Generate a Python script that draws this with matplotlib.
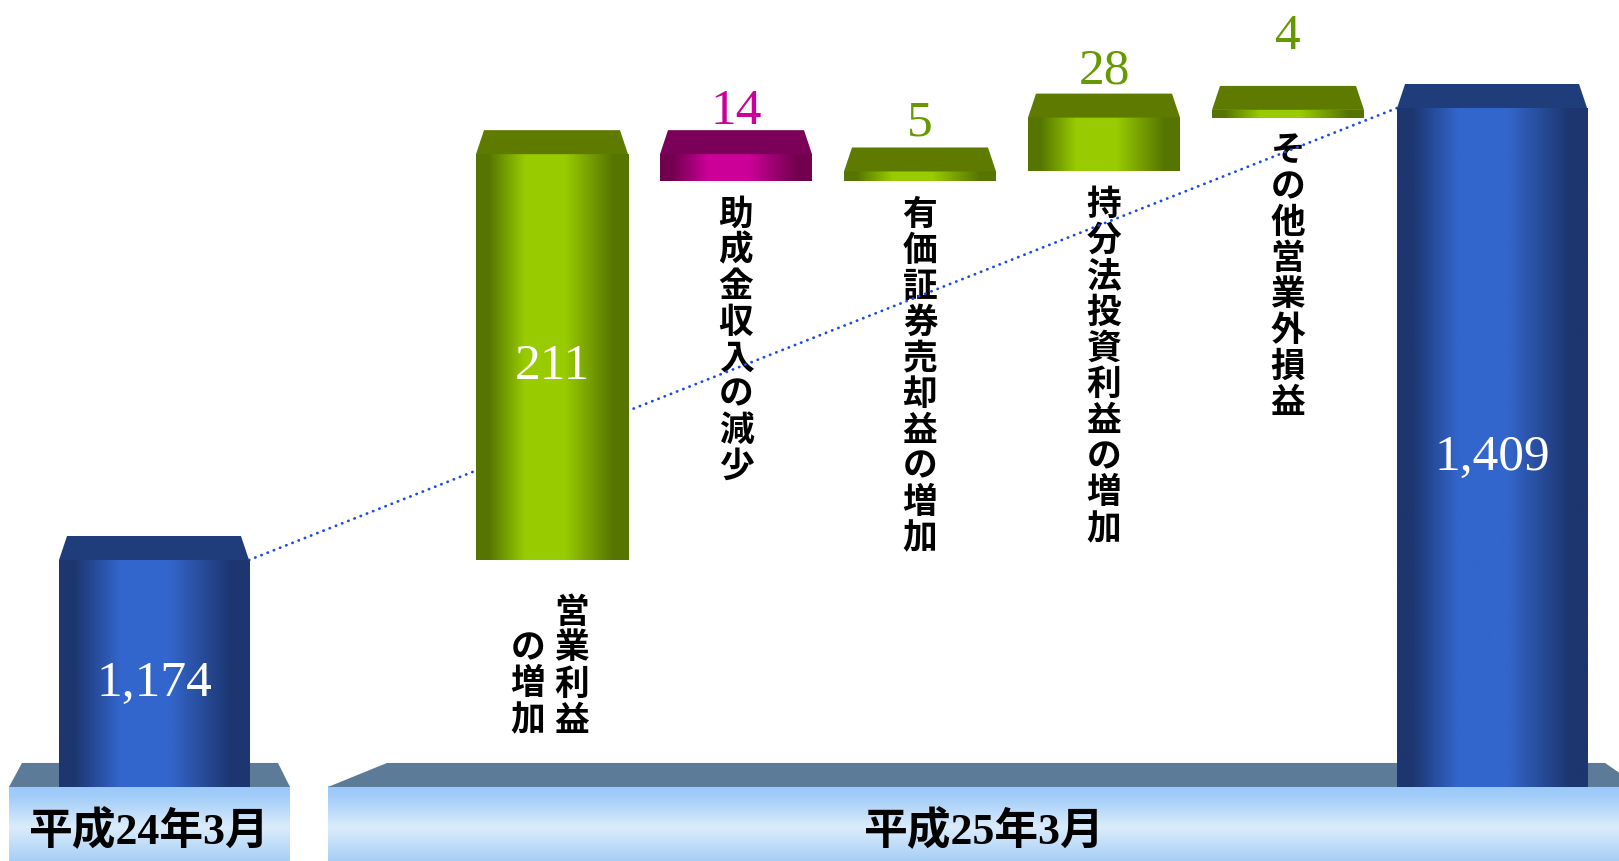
import numpy as np
import matplotlib
matplotlib.use("Agg")
import matplotlib.pyplot as plt
from matplotlib.colors import LinearSegmentedColormap
from matplotlib.patches import Polygon

# data
period_labels = ["平成24年3月", "平成25年3月"]
item_labels = ["営業利益\nの増加", "助成金収入の減少", "有価証券売却益の増加",
               "持分法投資利益の増加", "その他営業外損益"]
values = [1174, 211, -14, 5, 28, 4, 1409]

# layout (figure pixels -> data units)
PX_X = 184.0      # px per slot
PX_Y = 1.9234     # px per value unit
Y_TOP = 1174 + 561 / PX_Y
Y_BOT = 1174 - (862 - 561) / PX_Y
X_MAX = 1619 / PX_X
x_pos = [0.837, 3, 4, 5, 6, 7, 8.109]
FLOOR = 1056.0


def dx(px):
    return px / PX_X


def dy(px):
    return px / PX_Y


BLUE = ("#1d3670", "#3366cc", "#1f3d7a")
GREEN = ("#557500", "#99cc00", "#5e7b00")
MAGENTA = ("#72004f", "#cc0099", "#7a0058")


def hgrad(ax, x0, x1, y0, y1, dark, light, z):
    cmap = LinearSegmentedColormap.from_list(
        "g", [(0, dark), (0.08, dark), (0.32, light), (0.58, light), (0.9, dark), (1, dark)])
    img = np.linspace(0, 1, 256).reshape(1, -1)
    ax.imshow(img, cmap=cmap, extent=[x0, x1, y0, y1], aspect="auto",
              interpolation="bilinear", zorder=z)


def bar3d(ax, xc, width_px, bottom, top, colors, z=3):
    dark, light, cap = colors
    w = dx(width_px) / 2
    hgrad(ax, xc - w, xc + w, bottom, top, dark, light, z)
    ins = dx(8)
    cap_poly = Polygon([(xc - w, top), (xc + w, top), (xc + w - ins, top + dy(24)),
                        (xc - w + ins, top + dy(24))], closed=True, fc=cap, ec="none", zorder=z)
    ax.add_patch(cap_poly)


def base(ax, x0, x1, top_in_l, top_in_r, label):
    cmap = LinearSegmentedColormap.from_list(
        "b", [(0, "#a6cff6"), (0.45, "#dcecfb"), (0.85, "#a3cdf8"), (1, "#98c9fb")])
    img = np.linspace(0, 1, 256).reshape(-1, 1)
    ax.imshow(img, cmap=cmap, extent=[x0, x1, Y_BOT, FLOOR], origin="lower",
              aspect="auto", interpolation="bilinear", zorder=0.5)
    ax.add_patch(Polygon([(x0, FLOOR), (x1, FLOOR), (x1 - top_in_r, FLOOR + dy(24)),
                          (x0 + top_in_l, FLOOR + dy(24))], closed=True,
                         fc="#5c7b99", ec="none", zorder=0.5))
    ax.text((x0 + x1) / 2, FLOOR - dy(44), label, ha="center", va="center",
            fontsize=31.5, fontweight="bold", color="black",
            family=["Liberation Serif", "Noto Sans CJK JP"], zorder=1)


fig = plt.figure(figsize=(16.19, 8.62), dpi=100)
ax = fig.add_axes([0, 0, 1, 1])
ax.axis("off")

base(ax, dx(9), dx(290), dx(13), dx(12), period_labels[0])
base(ax, dx(328), dx(1640), dx(59), dx(35), period_labels[1])

# bars
running = values[0]
tops = []
bottoms = []
for i, v in enumerate(values):
    if i == 0 or i == len(values) - 1:
        lo, hi = FLOOR, v
        cols = BLUE
        wpx = 190
    else:
        lo, hi = (running, running + v) if v >= 0 else (running + v, running)
        running += v
        cols = GREEN if v >= 0 else MAGENTA
        wpx = 152
    bottoms.append(lo)
    tops.append(hi)
    bar3d(ax, x_pos[i], wpx, lo, hi, cols)

    label = f"{abs(v):,}"
    if (hi - lo) * PX_Y > 100:
        ax.text(x_pos[i], (lo + hi) / 2 - dy(9), label, ha="center", va="center",
                fontsize=37, color="white", family="Liberation Serif", zorder=5)
    else:
        lift = {2: 7, 3: 13, 4: 11, 5: 38}[i]
        ax.text(x_pos[i], hi + dy(24 + lift), label, ha="center", va="baseline",
                fontsize=37, color=cols[1] if v < 0 else "#669900",
                family="Liberation Serif", zorder=5)

# vertical item labels
STEP = dy(36)
for j, lab in enumerate(item_labels):
    i = j + 1
    cols_txt = lab.split("\n")
    n = max(len(c) for c in cols_txt)
    if len(cols_txt) == 1:
        top = bottoms[i] - dy(14)
        offs = [0]
    else:
        top = bottoms[i] - dy(33)
        offs = [dx(20), dx(-24)]
    for c, col in enumerate(cols_txt):
        start = n - len(col)
        for k, ch in enumerate(col):
            yc = top - STEP * (start + k + 0.5)
            ax.text(x_pos[i] + offs[c], yc, ch, ha="center", va="center",
                    fontsize=25, fontweight="bold", family="Noto Sans CJK JP",
                    color="black", zorder=1)

# connector line
ax.plot([x_pos[0] + dx(95), x_pos[-1] - dx(95)], [values[0], values[-1]],
        color="#1a4ce0", lw=2.0, linestyle=(0, (0.1, 2.3)), dash_capstyle="round", zorder=2)

ax.set_xlim(0, X_MAX)
ax.set_ylim(Y_BOT, Y_TOP)
fig.savefig("out.png", dpi=100)
